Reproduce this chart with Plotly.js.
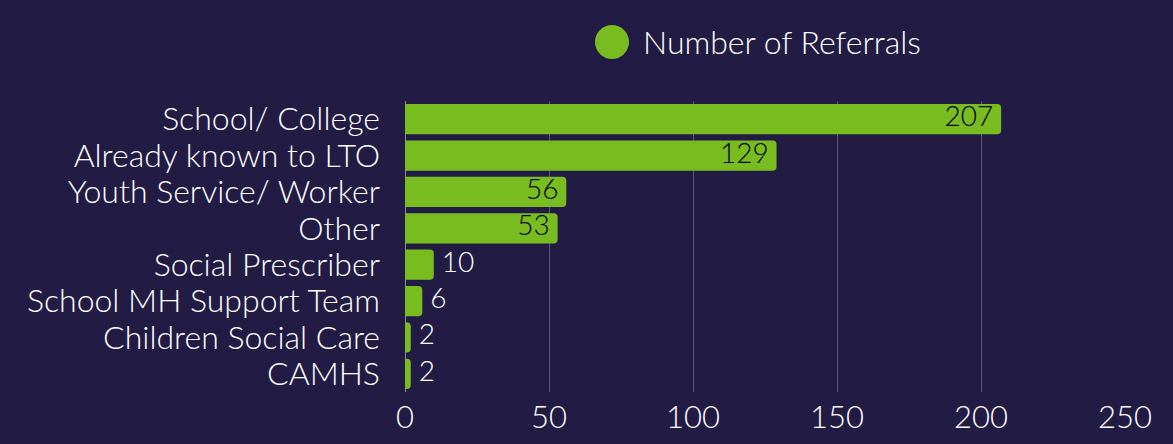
<!DOCTYPE html>
<html>
<head>
<meta charset="utf-8">
<script src="https://cdn.plot.ly/plotly-3.0.1.min.js"></script>
<style>
html,body{margin:0;padding:0;background:#221c44;}
#chart{width:1173px;height:444px;}
</style>
</head>
<body>
<div id="chart"></div>
<script>
const categories = ["School/ College","Already known to LTO","Youth Service/ Worker","Other","Social Prescriber","School MH Support Team","Children Social Care","CAMHS"];
const referrals = [207,129,56,53,10,6,2,2];
const seriesName = "Number of Referrals";
const xTicks = [0,50,100,150,200,250];

const green = "#78bc20";
const bg = "#221c44";
const fontFam = "Lato, 'Open Sans', sans-serif";
const insideThreshold = 20;

const barTrace = {
  type: "bar",
  orientation: "h",
  y: categories,
  x: referrals,
  name: seriesName,
  showlegend: false,
  marker: {color: green},
  width: 0.83,
  hoverinfo: "x+y"
};

const labelTrace = {
  type: "scatter",
  mode: "text+markers",
  y: categories,
  x: referrals,
  text: referrals.map(String),
  marker: {size: 11, opacity: 0, color: green},
  textposition: referrals.map(v => v >= insideThreshold ? "middle left" : "middle right"),
  textfont: {
    size: 28,
    family: fontFam,
    weight: 300,
    color: referrals.map(v => v >= insideThreshold ? "#000000" : "#ffffff")
  },
  cliponaxis: false,
  showlegend: false,
  hoverinfo: "skip"
};

const layout = {
  width: 1173,
  height: 444,
  paper_bgcolor: bg,
  plot_bgcolor: bg,
  margin: {l: 405, r: 48, t: 101, b: 52},
  barcornerradius: 4,
  font: {family: fontFam, color: "#ffffff"},
  showlegend: false,
  xaxis: {
    range: [0, 250],
    tickvals: xTicks,
    ticktext: xTicks.map(String),
    tickfont: {size: 31, color: "#ffffff", family: fontFam, weight: 300},
    ticklabelstandoff: 4,
    showgrid: true,
    gridcolor: "#5b5677",
    gridwidth: 1,
    zeroline: true,
    zerolinecolor: "#8a86a8",
    zerolinewidth: 1,
    showline: false,
    ticks: "",
    fixedrange: true
  },
  yaxis: {
    type: "category",
    range: [categories.length - 0.5, -0.5],
    tickmode: "array",
    tickvals: categories,
    ticktext: categories,
    tickfont: {size: 32, color: "#ffffff", family: fontFam, weight: 300},
    showgrid: false,
    zeroline: false,
    showline: false,
    ticks: "",
    ticklabelstandoff: 24,
    fixedrange: true
  },
  shapes: [{
    type: "circle",
    xref: "paper", yref: "paper",
    x0: (595 - 405) / 720, x1: (629 - 405) / 720,
    y0: (444 - 52 - 59) / 291, y1: (444 - 52 - 25) / 291,
    fillcolor: green,
    line: {width: 0}
  }],
  annotations: [{
    text: seriesName,
    xref: "paper", yref: "paper",
    x: (641 - 405) / 720, y: (444 - 52 - 41) / 291,
    xanchor: "left", yanchor: "middle",
    showarrow: false,
    font: {size: 32, color: "#ffffff", family: fontFam, weight: 300}
  }]
};

Plotly.newPlot("chart", [barTrace, labelTrace], layout, {displayModeBar: false, staticPlot: true});
</script>
</body>
</html>
